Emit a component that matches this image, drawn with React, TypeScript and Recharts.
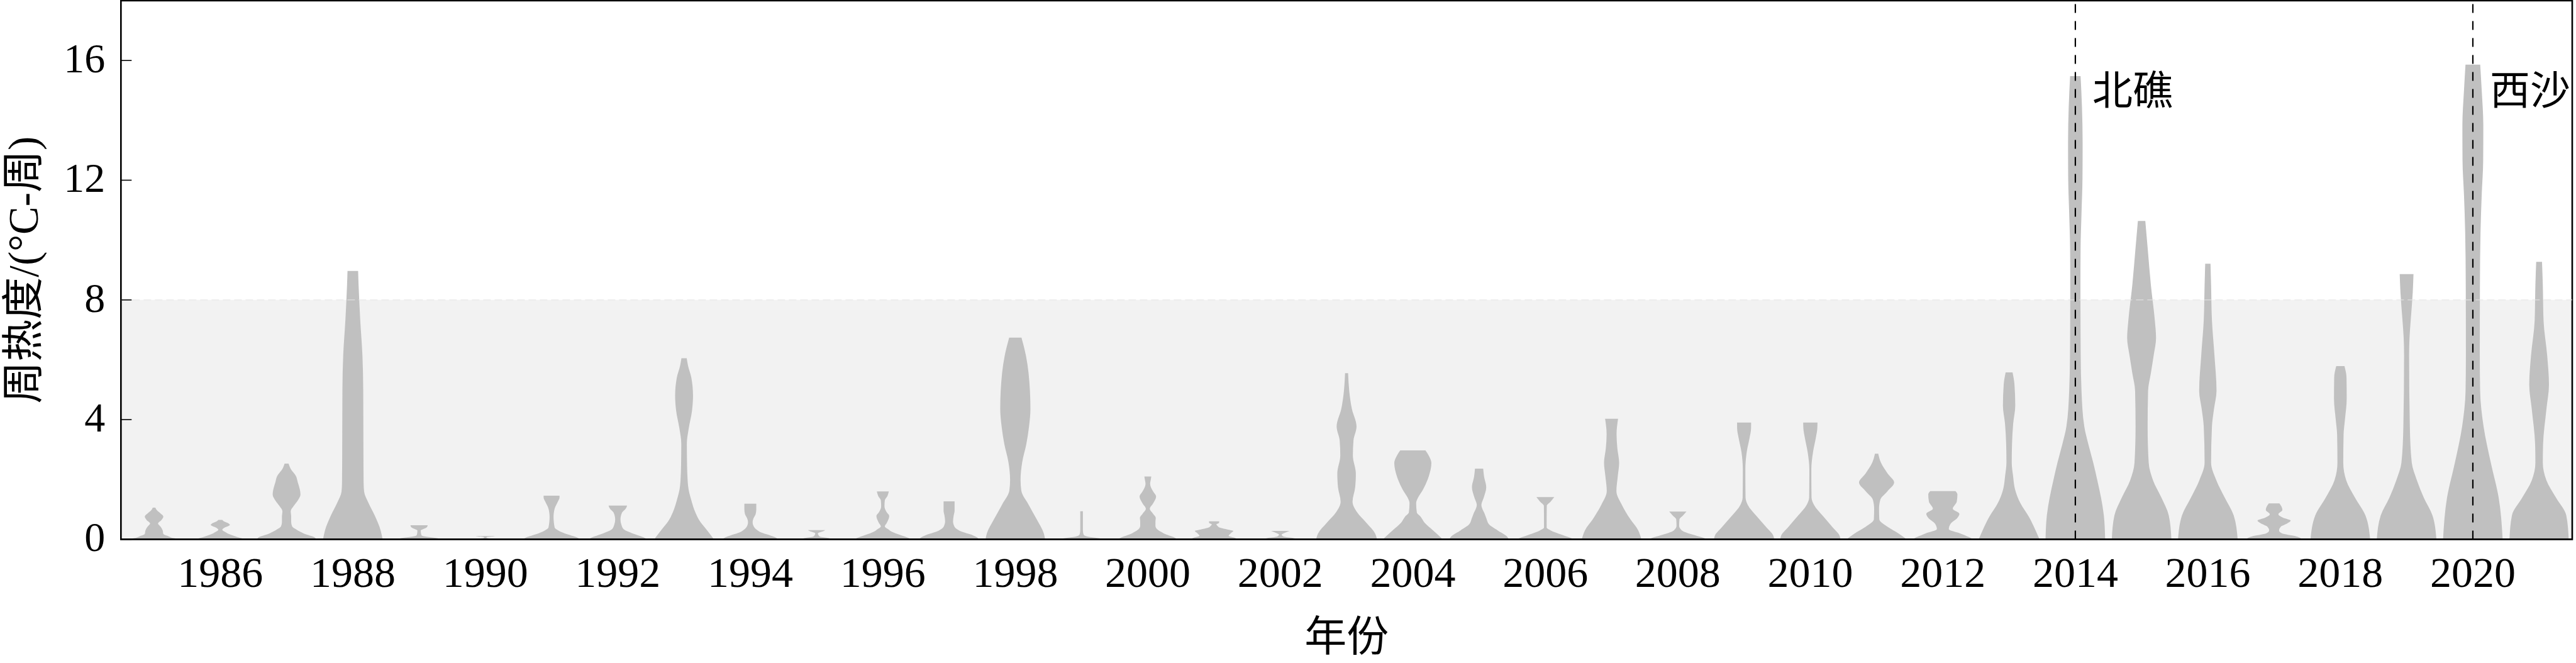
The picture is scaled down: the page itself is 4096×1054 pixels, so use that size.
import { Area, ComposedChart, ReferenceArea, ReferenceLine, XAxis, YAxis } from "recharts";

// violin profiles: [heat value, half width in years], bottom to top
const years = [
  1985, 1986, 1987, 1988, 1989, 1990, 1991, 1992, 1993, 1994, 1995, 1996, 1997,
  1998, 1999, 2000, 2001, 2002, 2003, 2004, 2005, 2006, 2007, 2008, 2009, 2010,
  2011, 2012, 2013, 2014, 2015, 2016, 2017, 2018, 2019, 2020, 2021,
];

const v1985 = [[0, 0.42], [0.04, 0.3], [0.1, 0.22], [0.18, 0.14], [0.3, 0.13], [0.42, 0.1], [0.53, 0.06], [0.64, 0.11], [0.76, 0.14], [0.88, 0.09], [0.98, 0.04], [1.06, 0.02]];
const v1986 = [[0, 0.39], [0.05, 0.3], [0.1, 0.23], [0.16, 0.15], [0.25, 0.07], [0.32, 0.03], [0.39, 0.065], [0.48, 0.145], [0.55, 0.11], [0.61, 0.05], [0.65, 0.03]];
const v1987 = [[0, 0.45], [0.09, 0.4], [0.16, 0.3], [0.25, 0.21], [0.34, 0.14], [0.43, 0.085], [0.57, 0.07], [0.75, 0.07], [0.94, 0.063], [1.12, 0.11], [1.3, 0.17], [1.5, 0.21], [1.67, 0.2], [1.9, 0.17], [2.12, 0.14], [2.35, 0.063], [2.53, 0.03]];
const v1988 = [[0, 0.45], [0.3, 0.42], [0.8, 0.33], [1.2, 0.24], [1.6, 0.17], [1.9, 0.163], [3, 0.16], [5, 0.157], [6.15, 0.145], [7.33, 0.112], [8.5, 0.087], [8.97, 0.08]];
const v1989 = [[0, 0.35], [0.05, 0.24], [0.09, 0.1], [0.14, 0.035], [0.3, 0.025], [0.34, 0.06], [0.41, 0.12], [0.47, 0.13]];
const v1990 = [[0, 0.2], [0.02, 0.1], [0.05, 0.015], [0.08, 0.03], [0.1, 0.13], [0.11, 0.14]];
const v1991 = [[0, 0.44], [0.09, 0.35], [0.16, 0.25], [0.23, 0.165], [0.3, 0.1], [0.39, 0.047], [0.75, 0.03], [1.03, 0.047], [1.26, 0.095], [1.39, 0.12], [1.46, 0.12]];
const v1992 = [[0, 0.45], [0.09, 0.36], [0.16, 0.27], [0.25, 0.165], [0.34, 0.087], [0.48, 0.055], [0.66, 0.04], [0.89, 0.063], [1.03, 0.12], [1.13, 0.14]];
const v1993 = [[0, 0.45], [0.15, 0.4], [0.35, 0.33], [0.6, 0.24], [0.9, 0.17], [1.3, 0.11], [1.8, 0.06], [2.5, 0.045], [3.2, 0.042], [3.7, 0.07], [4.3, 0.12], [4.8, 0.135], [5.4, 0.11], [5.8, 0.06], [6.05, 0.04]];
const v1994 = [[0, 0.43], [0.09, 0.35], [0.16, 0.26], [0.23, 0.165], [0.3, 0.11], [0.39, 0.063], [0.57, 0.035], [0.71, 0.05], [0.84, 0.08], [1.0, 0.09], [1.19, 0.09]];
const v1995 = [[0, 0.25], [0.05, 0.16], [0.09, 0.05], [0.2, 0.02], [0.27, 0.1], [0.31, 0.13]];
const v1996 = [[0, 0.44], [0.09, 0.335], [0.16, 0.245], [0.25, 0.14], [0.34, 0.08], [0.43, 0.03], [0.55, 0.06], [0.78, 0.097], [0.9, 0.06], [1.1, 0.025], [1.3, 0.03], [1.45, 0.07], [1.6, 0.09]];
const v1997 = [[0, 0.46], [0.09, 0.4], [0.16, 0.33], [0.25, 0.2], [0.34, 0.12], [0.43, 0.08], [0.6, 0.06], [0.8, 0.07], [0.95, 0.083], [1.27, 0.083]];
const v1998 = [[0, 0.45], [0.2, 0.43], [0.68, 0.32], [1.16, 0.2], [1.63, 0.09], [1.99, 0.079], [2.58, 0.104], [3.18, 0.166], [3.77, 0.207], [4.36, 0.228], [5.55, 0.2], [6.14, 0.16], [6.74, 0.093]];
const v1999 = [[0, 0.38], [0.05, 0.22], [0.09, 0.09], [0.16, 0.03], [0.3, 0.02], [0.94, 0.02]];
const v2000 = [[0, 0.45], [0.09, 0.37], [0.16, 0.28], [0.25, 0.2], [0.34, 0.14], [0.45, 0.115], [0.6, 0.115], [0.72, 0.12], [0.85, 0.08], [1.02, 0.03], [1.2, 0.08], [1.43, 0.125], [1.6, 0.08], [1.85, 0.035], [2.0, 0.045], [2.1, 0.052]];
const v2001 = [[0, 0.37], [0.06, 0.3], [0.12, 0.22], [0.2, 0.25], [0.28, 0.29], [0.33, 0.2], [0.38, 0.1], [0.45, 0.05], [0.5, 0.035], [0.55, 0.075], [0.6, 0.077]];
const v2002 = [[0, 0.28], [0.04, 0.2], [0.09, 0.05], [0.16, 0.02], [0.22, 0.07], [0.28, 0.14]];
const v2003 = [[0, 0.46], [0.2, 0.43], [0.55, 0.3], [0.9, 0.16], [1.26, 0.09], [1.74, 0.13], [2.2, 0.14], [2.8, 0.095], [3.3, 0.104], [3.77, 0.15], [4.36, 0.08], [4.96, 0.04], [5.55, 0.023]];
const v2004 = [[0, 0.45], [0.13, 0.39], [0.31, 0.3], [0.55, 0.18], [0.75, 0.12], [0.9, 0.06], [1.21, 0.05], [1.4, 0.08], [1.65, 0.15], [2.1, 0.24], [2.55, 0.28], [2.8, 0.24], [2.97, 0.19]];
const v2005 = [[0, 0.45], [0.1, 0.42], [0.3, 0.28], [0.5, 0.15], [0.7, 0.11], [0.85, 0.085], [1.15, 0.035], [1.39, 0.07], [1.74, 0.108], [2.1, 0.075], [2.36, 0.062]];
const v2006 = [[0, 0.44], [0.07, 0.355], [0.16, 0.24], [0.3, 0.08], [0.39, 0.02], [1.12, 0.022], [1.26, 0.08], [1.41, 0.135]];
const v2007 = [[0, 0.45], [0.31, 0.4], [0.67, 0.284], [1.15, 0.156], [1.61, 0.073], [2.1, 0.093], [2.56, 0.114], [3.04, 0.087], [3.52, 0.075], [4.03, 0.098]];
const v2008 = [[0, 0.45], [0.07, 0.36], [0.16, 0.22], [0.3, 0.06], [0.45, 0.02], [0.66, 0.024], [0.8, 0.08], [0.93, 0.13]];
const v2009 = [[0, 0.455], [0.13, 0.44], [0.42, 0.33], [0.78, 0.187], [1.15, 0.056], [1.4, 0.022], [2.33, 0.019], [2.92, 0.04], [3.39, 0.083], [3.7, 0.105], [3.9, 0.106]];
const v2010 = [[0, 0.455], [0.13, 0.44], [0.42, 0.33], [0.78, 0.19], [1.15, 0.056], [1.4, 0.018], [2.33, 0.015], [2.92, 0.041], [3.39, 0.083], [3.7, 0.105], [3.9, 0.108]];
const v2011 = [[0, 0.456], [0.2, 0.33], [0.42, 0.166], [0.67, 0.041], [1.02, 0.037], [1.32, 0.056], [1.61, 0.166], [1.9, 0.265], [2.2, 0.166], [2.56, 0.066], [2.86, 0.025]];
const v2012 = [[0, 0.46], [0.07, 0.4], [0.2, 0.26], [0.34, 0.09], [0.53, 0.12], [0.72, 0.22], [0.85, 0.25], [1.02, 0.15], [1.26, 0.21], [1.5, 0.22], [1.61, 0.19]];
const v2013 = [[0, 0.46], [0.3, 0.4], [0.75, 0.3], [1.21, 0.17], [1.67, 0.09], [2.12, 0.06], [2.56, 0.04], [3.17, 0.044], [3.87, 0.062], [4.47, 0.093], [5.18, 0.081], [5.58, 0.052]];
const v2014 = [[0, 0.45], [0.8, 0.43], [1.39, 0.388], [1.97, 0.332], [2.56, 0.27], [3.17, 0.197], [3.77, 0.135], [4.96, 0.093], [6.14, 0.081], [8.5, 0.077], [9.7, 0.079], [10.89, 0.093], [12.08, 0.108], [13.27, 0.11], [14.45, 0.1], [15.48, 0.079]];
const v2015 = [[0, 0.45], [0.8, 0.41], [1.39, 0.3], [1.97, 0.173], [2.56, 0.107], [3.77, 0.091], [4.96, 0.098], [5.55, 0.14], [6.14, 0.182], [6.73, 0.218], [7.31, 0.2], [8.5, 0.14], [9.69, 0.093], [10.64, 0.056]];
const v2016 = [[0, 0.45], [0.8, 0.39], [1.39, 0.256], [1.97, 0.129], [2.56, 0.049], [3.77, 0.062], [4.36, 0.093], [4.96, 0.131], [6.14, 0.1], [7.31, 0.062], [8.5, 0.049], [9.21, 0.04]];
const v2017 = [[0, 0.43], [0.11, 0.32], [0.2, 0.12], [0.3, 0.075], [0.42, 0.1], [0.5, 0.17], [0.63, 0.25], [0.72, 0.14], [0.84, 0.065], [0.98, 0.125], [1.1, 0.11], [1.2, 0.08]];
const v2018 = [[0, 0.45], [0.8, 0.378], [1.39, 0.222], [1.97, 0.089], [2.56, 0.044], [3.51, 0.049], [3.99, 0.069], [4.7, 0.096], [5.41, 0.093], [5.79, 0.062]];
const v2019 = [[0, 0.45], [0.8, 0.39], [1.39, 0.26], [1.97, 0.156], [2.56, 0.078], [3.77, 0.049], [6.14, 0.038], [6.73, 0.044], [7.31, 0.062], [8.26, 0.093], [8.86, 0.104]];
const v2020 = [[0, 0.45], [1.39, 0.39], [2.56, 0.271], [3.77, 0.162], [4.96, 0.11], [6.14, 0.105], [8.5, 0.107], [10.28, 0.116], [11.47, 0.133], [12.66, 0.156], [13.84, 0.158], [15.03, 0.133], [15.86, 0.111]];
const v2021 = [[0, 0.447], [0.8, 0.41], [1.39, 0.256], [1.97, 0.111], [2.56, 0.056], [3.17, 0.06], [4.36, 0.111], [5.17, 0.149], [6.14, 0.122], [7.31, 0.067], [8.5, 0.056], [9.27, 0.044]];

const profiles = [
  v1985, v1986, v1987, v1988, v1989, v1990, v1991, v1992, v1993, v1994, v1995,
  v1996, v1997, v1998, v1999, v2000, v2001, v2002, v2003, v2004, v2005, v2006,
  v2007, v2008, v2009, v2010, v2011, v2012, v2013, v2014, v2015, v2016, v2017,
  v2018, v2019, v2020, v2021,
];

const yearTicks = [1986, 1988, 1990, 1992, 1994, 1996, 1998, 2000, 2002, 2004, 2006, 2008, 2010, 2012, 2014, 2016, 2018, 2020];
const heatTicks = [0, 4, 8, 12, 16];
const markerYears = [2014, 2020];
const markerNames = ["北礁", "西沙"];

const SERIF = '"Liberation Serif", "Times New Roman", "Noto Sans CJK SC", serif';
const VIOLIN = "#c0c0c0";

const violins = years.map((year, i) =>
  profiles[i].map(([v, hw]) => ({ v, range: [year - hw, year + hw] })),
);

function HeatTick({ x, y, payload }: any) {
  return (
    <g>
      <line x1={x} y1={y} x2={x + 17} y2={y} stroke="#000" strokeWidth={1.6} />
      <text x={x - 25} y={y + 19} textAnchor="end" fontFamily={SERIF} fontSize={66} fill="#000">
        {payload.value}
      </text>
    </g>
  );
}

function YearTick({ x, y, payload }: any) {
  return (
    <text x={x} y={y + 76} textAnchor="middle" fontFamily={SERIF} fontSize={68} fill="#000">
      {payload.value}
    </text>
  );
}

export default function App() {
  return (
    <div style={{ position: "absolute", left: 0, top: 0, width: 4096, height: 1054, background: "#fff" }}>
      <ComposedChart
        width={4096}
        height={1054}
        layout="vertical"
        margin={{ top: 1, right: 6, bottom: 0, left: 0 }}
      >
        <XAxis
          type="number"
          domain={[1984.5, 2021.5]}
          allowDataOverflow
          ticks={yearTicks}
          interval={0}
          tick={<YearTick />}
          tickSize={0}
          tickMargin={0}
          axisLine={false}
          height={196.6}
          label={(props: any) => {
            const vb = props.viewBox;
            return (
              <text x={vb.x + vb.width / 2} y={vb.y + 178} textAnchor="middle" fontFamily={SERIF} fontSize={67} fill="#000">
                年份
              </text>
            );
          }}
        />
        <YAxis
          type="number"
          dataKey="v"
          domain={[0, 18]}
          reversed
          allowDataOverflow
          ticks={heatTicks}
          interval={0}
          tick={<HeatTick />}
          tickSize={0}
          tickMargin={0}
          axisLine={false}
          width={192.3}
          label={(props: any) => {
            const vb = props.viewBox;
            const cx = 37.5;
            const cy = vb.y + vb.height / 2;
            return (
              <text
                x={cx}
                y={cy}
                transform={`rotate(-90 ${cx} ${cy})`}
                textAnchor="middle"
                dominantBaseline="central"
                fontFamily={SERIF}
                fontSize={67}
                fill="#000"
              >
                周热度/(°C-周)
              </text>
            );
          }}
        />
        <ReferenceArea y1={0} y2={8} fill="#f2f2f2" fillOpacity={1} stroke="none" />
        <ReferenceLine y={8} stroke="#e6e6e6" strokeWidth={1} strokeDasharray="12 6" />
        {violins.map((rows, i) => (
          <Area
            key={years[i]}
            data={rows}
            dataKey="range"
            type="monotone"
            fill={VIOLIN}
            fillOpacity={1}
            stroke="none"
            dot={false}
            activeDot={false}
            isAnimationActive={false}
          />
        ))}
        {markerYears.map((year, i) => (
          <ReferenceLine
            key={year}
            x={year}
            stroke="#000"
            strokeWidth={2.2}
            strokeDasharray="14 13"
            label={(props: any) => {
              const vb = props.viewBox;
              return (
                <text x={vb.x + 27} y={vb.y + 165} fontFamily={SERIF} fontSize={64} fill="#000">
                  {markerNames[i]}
                </text>
              );
            }}
          />
        ))}
        <ReferenceArea
          x1={1984.5}
          x2={2021.5}
          y1={0}
          y2={18}
          fill="none"
          stroke="#000"
          strokeWidth={2.6}
        />
      </ComposedChart>
    </div>
  );
}
